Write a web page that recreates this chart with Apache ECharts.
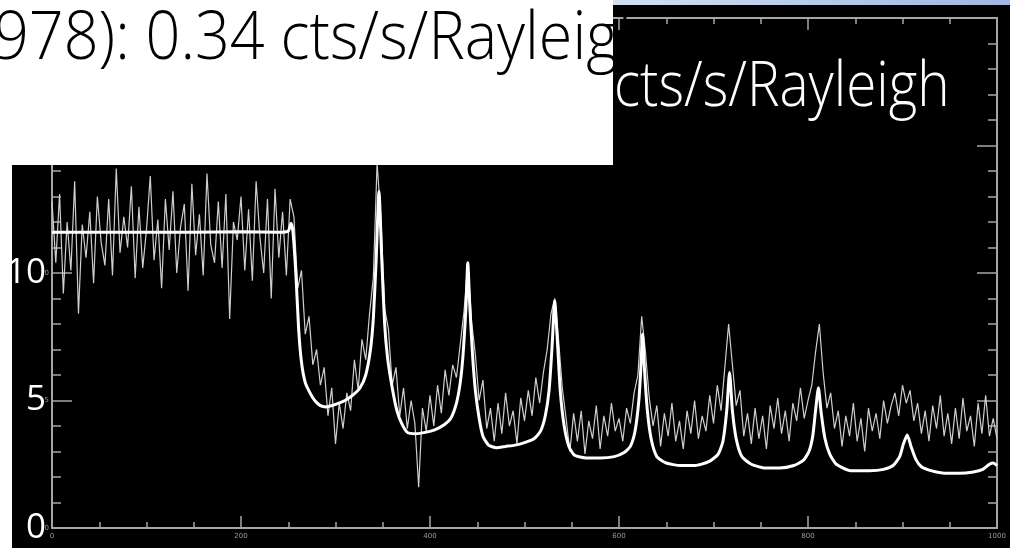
<!DOCTYPE html>
<html>
<head>
<meta charset="utf-8">
<style>
  html, body { margin: 0; padding: 0; background: #000; }
  #chart { width: 1010px; height: 548px; }
</style>
<script src="https://cdn.jsdelivr.net/npm/echarts@6.0.0/dist/echarts.min.js"></script>
</head>
<body>
<div id="chart"></div>
<script>
// Spectrum channel spacing of the measured count rate
const channelStep = 4;

// Measured count rate per channel (cts/s), channels 0..1000
const measuredRate = [
  12.8, 10.4, 13.1, 9.2, 12.0, 10.1, 13.6, 8.4, 11.9, 10.6,
  12.4, 9.6, 13.0, 11.2, 10.3, 12.9, 9.9, 14.1, 10.8, 12.2,
  11.0, 13.4, 9.8, 12.6, 10.2, 11.7, 13.8, 10.5, 12.1, 9.4,
  12.9, 10.9, 13.2, 10.0, 11.8, 12.7, 9.3, 13.5, 10.7, 12.3,
  9.9, 13.9, 11.1, 10.4, 12.8, 10.2, 13.1, 8.2, 12.0, 11.3,
  13.0, 10.1, 12.5, 9.7, 13.6, 11.4, 10.0, 12.9, 9.0, 13.3,
  10.6, 12.4, 9.9, 12.9, 12.2, 9.4, 10.1, 7.6, 8.3, 6.4,
  7.0, 5.6, 6.3, 4.4, 5.5, 3.3, 4.9, 3.9, 5.3, 4.6,
  6.6, 5.4, 7.4, 6.6, 8.4, 9.8, 14.3, 12.2, 8.6, 7.8,
  5.6, 6.3, 4.4, 5.5, 3.9, 5.0, 4.1, 1.6, 4.7, 3.8,
  5.2, 4.0, 5.6, 4.5, 6.2, 5.2, 6.4, 5.9, 7.2, 8.5,
  10.4, 8.1, 6.8, 5.0, 5.8, 3.9, 4.7, 3.4, 4.9, 3.7,
  5.3, 4.0, 4.6, 3.3, 5.1, 4.2, 5.4, 4.4, 5.9, 4.9,
  6.1, 7.0, 8.4, 9.0, 7.4, 5.5, 4.3, 3.0, 4.5, 3.4,
  4.6, 2.9, 4.2, 3.5, 4.8, 3.1, 4.4, 3.6, 4.9, 3.8,
  4.3, 3.4, 4.7, 4.1, 5.3, 6.0, 8.3, 6.9, 5.1, 4.0,
  4.8, 3.2, 4.5, 3.6, 4.9, 3.4, 4.2, 3.1, 4.6, 3.7,
  5.0, 3.5, 4.4, 3.8, 5.2, 4.1, 5.6, 4.6, 6.3, 8.0,
  6.4, 4.8, 5.4, 3.6, 4.5, 3.3, 4.7, 3.5, 4.4, 3.1,
  4.8, 3.9, 5.1, 3.7, 4.6, 3.4, 4.9, 4.2, 5.5, 4.3,
  5.0, 5.6, 6.9, 8.0, 6.1, 4.7, 5.3, 3.9, 4.6, 3.2,
  4.4, 3.6, 4.9, 3.4, 4.3, 3.0, 4.7, 3.8, 4.5, 3.5,
  5.0, 4.1, 4.8, 5.3, 4.4, 5.6, 4.9, 5.4, 4.2, 4.9,
  3.7, 4.6, 3.4, 4.8, 3.9, 5.2, 3.6, 4.5, 3.3, 4.7,
  3.5, 5.1, 3.8, 4.4, 3.2, 4.9, 3.7, 5.2, 3.6, 4.3,
  3.5
];

// Fitted model: channel positions and fitted count rate
const fitChannels = [
  0, 50, 100, 150, 200, 240, 250, 253, 255, 258, 261, 264, 268, 273, 278, 284, 290, 300, 310, 318,
  326, 332, 337, 340, 343, 346, 349, 352, 355, 360, 365, 370, 376, 385, 395, 405, 415, 422, 428, 432,
  435, 438, 440, 442, 445, 448, 452, 456, 462, 470, 480, 490, 500, 510, 517, 522, 526, 529, 532, 535,
  538, 542, 547, 553, 565, 580, 595, 605, 612, 617, 621, 623, 625, 627, 630, 634, 640, 650, 665, 680,
  695, 705, 710, 714, 717, 720, 724, 730, 740, 755, 770, 785, 795, 801, 805, 808, 811, 814, 818, 823,
  830, 845, 865, 880, 890, 897, 901, 905, 909, 914, 920, 930, 945, 960, 975, 985, 992, 996, 1000
];
const fitRate = [
  11.6, 11.6, 11.6, 11.6, 11.62, 11.6, 11.65, 11.95, 11.6, 10.0, 7.8, 6.5, 5.7, 5.3, 5.0, 4.8, 4.75, 4.85, 5.0, 5.2,
  5.5, 6.0, 7.0, 8.2, 10.5, 13.2, 10.5, 8.0, 6.7, 5.5, 4.6, 4.1, 3.75, 3.7, 3.75, 3.85, 4.05, 4.3, 4.9, 5.7,
  6.8, 8.6, 10.4, 8.8, 6.8, 5.4, 4.3, 3.6, 3.25, 3.15, 3.2, 3.25, 3.35, 3.5, 3.8, 4.4, 5.4, 7.0, 8.9, 7.2,
  5.3, 4.0, 3.2, 2.85, 2.75, 2.75, 2.8, 2.95, 3.2, 3.8, 5.0, 6.2, 7.6, 6.2, 4.6, 3.5, 2.8, 2.55, 2.45, 2.45,
  2.6, 2.9, 3.4, 4.6, 6.1, 4.6, 3.5, 2.8, 2.5, 2.35, 2.35, 2.45, 2.65, 3.0, 3.6, 4.6, 5.5, 4.5, 3.5, 2.9,
  2.5, 2.25, 2.25, 2.3, 2.45, 2.8, 3.3, 3.65, 3.2, 2.7, 2.4, 2.25, 2.15, 2.15, 2.2, 2.3, 2.5, 2.55, 2.45
];

// Y axis values that carry a large overlay label
const bigYLabels = [0, 5, 10];

// Caption lines
const captionTop = '978): 0.34 cts/s/Rayleigh';
const captionSecond = 'cts/s/Rayleigh';

const frameColor = '#a6a6a6';
const tinyLabel = { fontSize: 7, color: '#9a9a9a', fontFamily: 'DejaVu Sans' };

const chart = echarts.init(document.getElementById('chart'), null, { renderer: 'canvas' });

const xAxisBase = {
  type: 'value', min: 0, max: 1000, interval: 200,
  axisLine: { show: true, onZero: false, lineStyle: { color: frameColor, width: 2 } },
  axisTick: { show: true, inside: true, length: 12, lineStyle: { color: frameColor, width: 1.5 } },
  minorTick: { show: true, splitNumber: 4, length: 6, lineStyle: { color: frameColor, width: 1.5 } },
  splitLine: { show: false }, minorSplitLine: { show: false }
};
const yAxisBase = {
  type: 'value', min: 0, max: 20, interval: 5,
  axisLine: { show: true, onZero: false, lineStyle: { color: frameColor, width: 2 } },
  axisTick: { show: true, inside: true, length: 20, lineStyle: { color: frameColor, width: 1.5 } },
  minorTick: { show: true, splitNumber: 5, length: 9, lineStyle: { color: frameColor, width: 1.5 } },
  splitLine: { show: false }, minorSplitLine: { show: false }
};

chart.setOption({
  animation: false,
  backgroundColor: '#000',
  grid: { left: 52, right: 13, top: 18, bottom: 20 },
  xAxis: [
    Object.assign({}, xAxisBase, { position: 'bottom',
      axisLabel: Object.assign({ show: true, margin: 5, formatter: v => String(v) }, tinyLabel) }),
    Object.assign({}, xAxisBase, { position: 'top', axisLabel: { show: false } })
  ],
  yAxis: [
    Object.assign({}, yAxisBase, { position: 'left',
      axisLabel: Object.assign({ show: true, margin: 3 }, tinyLabel) }),
    Object.assign({}, yAxisBase, { position: 'right', axisLabel: { show: false } }),
    {
      type: 'value', min: 0, max: 20, interval: 5, position: 'left', offset: 0,
      axisLine: { show: false }, axisTick: { show: false }, minorTick: { show: false },
      splitLine: { show: false },
      axisLabel: {
        show: true, margin: 6, fontSize: 35, color: '#fff', fontFamily: 'Open Sans',
        padding: [0, 0, 9, 0],
        formatter: v => (bigYLabels.indexOf(v) >= 0 ? String(v) : '')
      }
    }
  ],
  series: [
    {
      name: 'measured', type: 'line', xAxisIndex: 0, yAxisIndex: 0,
      data: measuredRate.map((v, i) => [i * channelStep, v]),
      showSymbol: false, symbol: 'none',
      lineStyle: { color: '#cfcfcf', width: 1.2 },
      z: 2
    },
    {
      name: 'fit', type: 'line', xAxisIndex: 0, yAxisIndex: 0,
      data: fitChannels.map((c, i) => [c, fitRate[i]]),
      showSymbol: false, symbol: 'none', smooth: 0.2,
      lineStyle: { color: '#ffffff', width: 3 },
      z: 3
    }
  ],
  graphic: [
    {
      type: 'text', x: 614, y: 88, scaleX: 0.885, z: 90,
      style: {
        text: captionSecond, fill: '#fff', font: '300 62px "Open Sans"',
        align: 'left', textAlign: 'left', verticalAlign: 'middle', textVerticalAlign: 'middle'
      }
    },
    { type: 'rect', shape: { x: 0, y: 0, width: 613, height: 165 }, style: { fill: '#fff' }, z: 100 },
    { type: 'rect', shape: { x: 0, y: 165, width: 12, height: 383 }, style: { fill: '#fff' }, z: 100 },
    {
      type: 'rect', shape: { x: 613, y: 0, width: 397, height: 5 }, z: 100,
      style: {
        fill: new echarts.graphic.LinearGradient(0, 0, 1, 0, [
          { offset: 0, color: '#d4e0f2' }, { offset: 0.5, color: '#b7cbea' }, { offset: 1, color: '#9fb8e2' }
        ])
      }
    },
    {
      type: 'text', x: -6, y: 40, scaleX: 0.925, z: 101,
      style: {
        text: captionTop, fill: '#000', font: '300 66px "Open Sans"',
        align: 'left', textAlign: 'left', verticalAlign: 'middle', textVerticalAlign: 'middle'
      }
    }
  ]
});
</script>
</body>
</html>
